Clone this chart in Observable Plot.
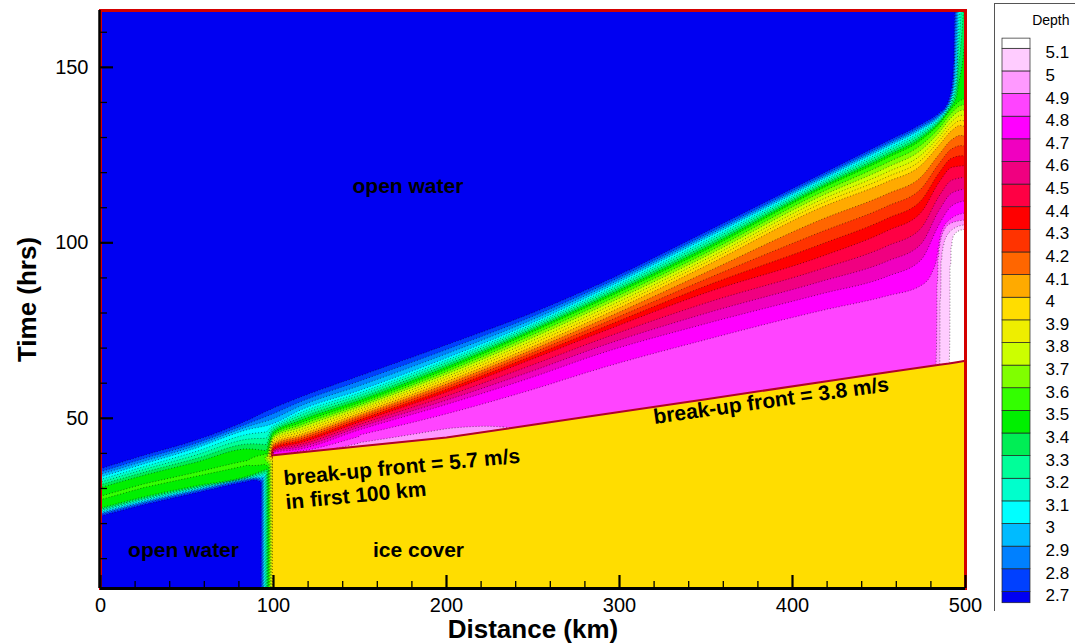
<!DOCTYPE html>
<html><head><meta charset="utf-8">
<script src="https://cdn.jsdelivr.net/npm/d3@7"></script>
<script src="https://cdn.jsdelivr.net/npm/@observablehq/plot@0.6"></script>
<style>
body{margin:0;background:#fff;}
#chart{position:relative;width:1079px;height:644px;font-family:'Liberation Sans',Arial,sans-serif;}
#legend{position:absolute;left:994px;top:3px;}
</style>
</head><body><div id="chart"><div id="main"></div><div id="legend"></div></div>
<script>
// ---------- scales / ticks ----------
const distanceDomain = [0, 500];
const timeDomain = [1.5, 166.2];
const xTicks = [0, 100, 200, 300, 400, 500];
const xMinorTicks = [20,40,60,80,120,140,160,180,220,240,260,280,320,340,360,380,420,440,460,480];
const yTicks = [50, 100, 150];
const yMinorTicks = [10,20,30,40,60,70,80,90,110,120,130,140,160];

// ---------- depth levels & colours ----------
const depthLevels = [2.7,2.8,2.9,3,3.1,3.2,3.3,3.4,3.5,3.6,3.7,3.8,3.9,4,4.1,4.2,4.3,4.4,4.5,4.6,4.7,4.8,4.9,5,5.1];
const depthColors = ["#0000F2","#0040FF","#0080FF","#00BBFF","#00FFFF","#00FFCC","#00FF99","#00EE55","#00F000","#33FF00","#80FF00","#CCFF00","#EEEE00","#FFDD00","#FFAA00","#FF6600","#FF3300","#FF0000","#FF0044","#F00080","#F000C0","#FF00FF","#FF44FF","#FF99FF","#FFCCFF","#FFFFFF"];

// ---------- isolines: [distance km, time hrs] ----------
const edge27 = [[0,35.5],[25,39.3],[55,43.6],[85,49.3],[100,52.8],[115,55.8],[150,62],[200,70.8],[250,80],[289,88.3],[350,103],[416,119.3],[455,128.9],[474,133.6],[485,137],[489,139],[491,141.5],[492.8,146.8],[493.6,156],[493.9,166.2]];
const upper30 = [[0,33.3],[25,37],[55,41.5],[85,46.8],[100,48.5],[115,52.2],[150,58],[200,67.2],[250,77.3],[289,86.3],[350,101.3],[416,117.8],[455,127.4],[474,132.2],[485,135.8],[489,138],[492,141.2],[494.5,147.5],[495.4,156],[495.8,166.2]];
const waveUpper34 = [[0,30.3],[25,33.8],[55,37.5],[85,41.3],[96,40.7]];
const waveLower34 = [[0,24.3],[25,27.5],[55,30.6],[85,33.4],[96.65,35.55]];
const lower30 = [[0,23.2],[25,26.4],[55,29.7],[85,32.8],[94.5,33.4]];
const lower27 = [[0,22.3],[25,25.5],[55,28.9],[85,32.2],[89.5,32.6],[92.9,31.8]];
const line35 = [[96,38.9],[100,45.5],[115,48.6],[150,54.5],[200,64],[250,74.7],[289,83.5],[350,98],[416,115.3],[455,124.3],[474,129.2],[485,134],[492,138.3],[497,140.5],[500,141]];
const line40 = [[97.5,39.2],[100,43],[115,45.3],[150,51.5],[200,60.5],[250,70.5],[289,79],[350,93.5],[416,110],[455,117.5],[474,122],[485,128],[492,132],[497,133.5],[500,133]];
const line44 = [[99,39.45],[100,41.2],[115,43],[150,49],[200,57.5],[250,67],[289,74.5],[350,85.8],[416,96],[455,103.5],[474,108.5],[485,117.5],[492,121.5],[500,122]];
const line47 = [[99.8,39.6],[100,40.3],[115,41.2],[150,46.8],[200,54],[250,61.8],[289,68.5],[350,77],[416,85.4],[455,90.5],[474,95],[485,105.5],[492,110.5],[500,112]];
const line48 = [[150,45.3],[200,51.3],[250,58.3],[289,64.3],[350,72.5],[416,80.7],[455,85],[474,87.8],[480,91],[484,97],[486,103],[492,107],[500,108.5]];
const line49 = [[483,65.1],[483.3,80],[483.7,92],[484.8,99],[488,104],[492,105.7],[500,106.5]];
const line50 = [[485,65.25],[485.3,85],[486,96],[488.5,101.5],[493,104],[500,105.2]];
const line51 = [[490.5,65.6],[490.8,85],[491.3,97],[492.8,102],[496,103.5],[500,104]];

// ---------- boundary profiles with varying depth: [distance, time, depth] ----------
const bottomDepth = [[0,1.5,2.6],[91.9,1.5,2.6],[92.9,1.5,2.7],[99.6,1.5,3.95],[500,1.5,3.95]];
const topDepth = [[0,166.2,2.6],[492.9,166.2,2.6],[493.9,166.2,2.7],[495.8,166.2,3.0],[497.5,166.2,3.2],[500,166.2,3.4]];
const stripTop = [[91.9,31,2.6],[92.9,31.8,2.7],[99.6,38.5,3.95],[100,39,3.95]];
const waveCrest = [[0,27.3,3.52],[25,30.8,3.52],[55,34,3.52],[85,37.3,3.52],[95,38.6,3.6],[97.5,39,3.85],[99,39.3,4.2]];

// ice break-up front (distance, time) and depth just behind it
const frontDistance = [100,115,150,200,250,289,350,416,455,474,480,483,485,490.5,495,500];
const frontTime = [39.5,40.25,42,44.5,48.15,51,55.45,60.27,63.1,64.5,64.9,65.1,65.25,65.6,66,66.4];
const frontDepth = [4.76,4.85,4.95,4.96,4.88,4.86,4.86,4.86,4.87,4.88,4.89,4.9,5.0,5.1,5.16,5.16];
const iceDepth = 3.95;

// annotations
const notesMiddle = [
  {text: "open water", x: 177.7, y: 116},
  {text: "open water", x: 48, y: 12.3},
  {text: "ice cover", x: 183.8, y: 12.3}
];
const notesStart = [
  {text: "break-up front = 5.7 m/s", x: 105.8, y: 32.8, rotate: -5.5},
  {text: "in first 100 km", x: 107, y: 26, rotate: -5.5},
  {text: "break-up front = 3.8 m/s", x: 319.7, y: 50.3, rotate: -8}
];

// ---------- depth field defined by the isolines above ----------
function prepLine(pts, smooth) {
  const xs = pts.map(p => p[0]), ys = pts.map(p => p[1]), vs = pts.map(p => p[2]);
  const n = xs.length, ms = new Array(n).fill(0);
  if (smooth && n > 1) {
    const h = [], s = [];
    for (let i = 0; i < n - 1; i++) { h[i] = xs[i + 1] - xs[i]; s[i] = (ys[i + 1] - ys[i]) / h[i]; }
    if (n === 2) { ms[0] = ms[1] = s[0]; }
    else {
      for (let i = 1; i < n - 1; i++) {
        const p = (s[i - 1] * h[i] + s[i] * h[i - 1]) / (h[i - 1] + h[i]);
        ms[i] = (Math.sign(s[i - 1]) + Math.sign(s[i])) * Math.min(Math.abs(s[i - 1]), Math.abs(s[i]), 0.5 * Math.abs(p)) || 0;
      }
      ms[0] = (3 * s[0] - ms[1]) / 2;
      ms[n - 1] = (3 * s[n - 2] - ms[n - 2]) / 2;
    }
  }
  return {xs, ys, vs, ms, smooth};
}
const withDepth = (pts, d) => pts.map(([x, y]) => [x, y, d]);
const ridge = waveCrest.concat(frontDistance.map((x, i) => [x, frontTime[i], frontDepth[i]]));
const fieldLines = [
  prepLine(bottomDepth, false), prepLine(topDepth, false), prepLine(stripTop, false), prepLine(ridge, false),
  ...[[edge27, 2.7], [lower27, 2.7], [upper30, 3.0], [lower30, 3.0], [waveUpper34, 3.4], [waveLower34, 3.4],
      [line35, 3.5], [line40, 4.0], [line44, 4.4], [line47, 4.7], [line48, 4.8], [line49, 4.9], [line50, 5.0], [line51, 5.1]]
    .map(([pts, d]) => prepLine(withDepth(pts, d), true))
];
const knotCache = new Map();
function knotsAt(x) {
  let ks = knotCache.get(x);
  if (ks) return ks;
  ks = [];
  for (const L of fieldLines) {
    const {xs, ys, vs, ms, smooth} = L, n = xs.length;
    if (x < xs[0] || x > xs[n - 1]) continue;
    let i = 1;
    while (i < n - 1 && xs[i] < x) i++;
    const x0 = xs[i - 1], x1 = xs[i], hh = x1 - x0;
    const t = hh ? (x - x0) / hh : 0;
    let y;
    if (smooth) {
      const t2 = t * t, t3 = t2 * t;
      y = (2 * t3 - 3 * t2 + 1) * ys[i - 1] + (t3 - 2 * t2 + t) * hh * ms[i - 1] + (-2 * t3 + 3 * t2) * ys[i] + (t3 - t2) * hh * ms[i];
    } else y = ys[i - 1] + t * (ys[i] - ys[i - 1]);
    ks.push([y, vs[i - 1] + t * (vs[i] - vs[i - 1])]);
  }
  ks.sort((a, b) => a[0] - b[0]);
  knotCache.set(x, ks);
  return ks;
}
function depthAt(x, y) {
  const ks = knotsAt(x);
  if (y <= ks[0][0]) return ks[0][1];
  for (let i = 1; i < ks.length; i++) {
    if (y <= ks[i][0]) {
      const [ya, va] = ks[i - 1], [yb, vb] = ks[i];
      return yb === ya ? vb : va + (vb - va) * (y - ya) / (yb - ya);
    }
  }
  return ks[ks.length - 1][1];
}
const front = frontDistance.map((x, i) => ({x, y: frontTime[i]}));

const colorSpec = {type: "threshold", domain: depthLevels, range: depthColors};
const W = 1079, H = 644, mL = 100, mR = 114, mT = 10, mB = 56;
const innerW = W - mL - mR, innerH = H - mT - mB;
const font = "'Liberation Sans', Arial, sans-serif";
const extent = {x1: distanceDomain[0], x2: distanceDomain[1], y1: timeDomain[0], y2: timeDomain[1]};

const chart = Plot.plot({
  width: W, height: H,
  marginLeft: mL, marginRight: mR, marginTop: mT, marginBottom: mB,
  x: {domain: distanceDomain},
  y: {domain: timeDomain},
  color: colorSpec,
  style: {fontFamily: font, color: "black", background: "white"},
  marks: [
    Plot.frame({fill: depthColors[0]}),
    Plot.contour({...extent, fill: depthAt, thresholds: depthLevels, pixelSize: 1}),
    Plot.contour({...extent, value: depthAt, thresholds: depthLevels, pixelSize: 1,
      fill: "none", stroke: "#000", strokeWidth: 1, strokeDasharray: "1,2", strokeOpacity: 0.5}),
    Plot.areaY(front, {x: "x", y1: 0, y2: "y", fill: () => iceDepth, clip: true}),
    Plot.line(front, {x: "x", y: "y", stroke: "#B0002A", strokeWidth: 2}),
    Plot.text(notesMiddle, {x: "x", y: "y", text: "text", fontSize: 21, fontWeight: "bold", fill: "black"}),
    Plot.text(notesStart, {x: "x", y: "y", text: "text", rotate: "rotate", textAnchor: "start", fontSize: 21, fontWeight: "bold", fill: "black"}),
    Plot.frame({stroke: "#D40000", strokeWidth: 3}),
    Plot.ruleX([distanceDomain[0]], {stroke: "black", strokeWidth: 2.5, dx: -1}),
    Plot.ruleY([timeDomain[0]], {stroke: "black", strokeWidth: 3}),
    Plot.tickX(xMinorTicks, {x: d => d, insetTop: innerH - 7, stroke: "black", strokeWidth: 1.3}),
    Plot.tickX(xTicks, {x: d => d, insetTop: innerH - 13, stroke: "black", strokeWidth: 2.2}),
    Plot.tickY(yMinorTicks, {y: d => d, insetRight: innerW - 7, stroke: "black", strokeWidth: 1.3}),
    Plot.tickY(yTicks, {y: d => d, insetRight: innerW - 13, stroke: "black", strokeWidth: 2.2}),
    Plot.axisX({ticks: xTicks, tickSize: 0, tickPadding: 9, fontSize: 20, label: null}),
    Plot.axisY({ticks: yTicks, tickSize: 0, tickPadding: 12, fontSize: 20, label: null}),
    Plot.text(["Distance (km)"], {frameAnchor: "bottom", lineAnchor: "middle", textAnchor: "middle", dy: 41, fontSize: 26, fontWeight: "bold", fill: "black"}),
    Plot.text(["Time (hrs)"], {frameAnchor: "left", lineAnchor: "middle", textAnchor: "middle", dx: -73, rotate: -90, fontSize: 26, fontWeight: "bold", fill: "black"})
  ]
});
document.getElementById("main").appendChild(chart);

// ---------- legend ----------
const legendEnds = [2.65, 5.145];
const legendBands = d3.range(depthLevels.length + 1).map(i => {
  const lo = i === 0 ? legendEnds[0] : depthLevels[i - 1];
  const hi = i === depthLevels.length ? legendEnds[1] : depthLevels[i];
  return {lo, hi, mid: (lo + hi) / 2};
});
const legend = Plot.plot({
  width: 81, height: 608, margin: 0,
  y: {axis: null, domain: [2.7, 5.1], range: [588.4, 45.3]},
  color: colorSpec,
  style: {fontFamily: font, color: "black", background: "white"},
  marks: [
    Plot.rect(legendBands, {y1: "lo", y2: "hi", fill: "mid", insetLeft: 8, insetRight: 45, stroke: "#222", strokeWidth: 0.7}),
    Plot.text(depthLevels, {y: d => d, text: d => String(d), frameAnchor: "left", dx: 51, dy: 4, textAnchor: "start", fontSize: 17, fill: "black"}),
    Plot.text(["Depth"], {frameAnchor: "top-right", lineAnchor: "middle", dx: -6, dy: 17, textAnchor: "end", fontSize: 14, fill: "black"}),
    Plot.frame({stroke: "#555", strokeWidth: 1})
  ]
});
document.getElementById("legend").appendChild(legend);
</script></body></html>
